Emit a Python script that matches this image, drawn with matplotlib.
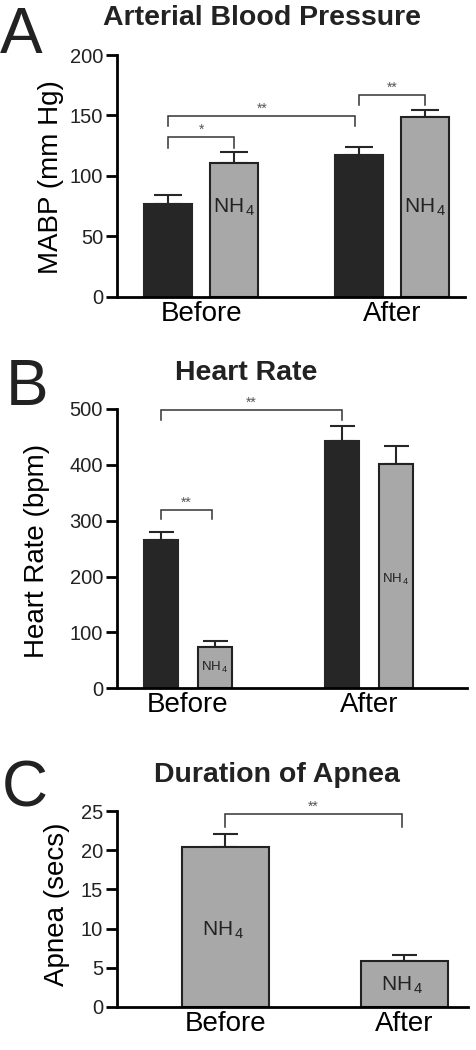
import matplotlib.pyplot as plt

plt.rcParams["font.family"] = ["Liberation Sans", "DejaVu Sans"]
plt.rcParams["mathtext.fontset"] = "custom"
plt.rcParams["mathtext.rm"] = "Liberation Sans"

groups = ["Before", "After"]

# Panel A: arterial blood pressure (mm Hg)
mabp_control = [77, 117.5]
mabp_control_err = [7.5, 6]
mabp_nh4 = [110.5, 148.5]
mabp_nh4_err = [9, 6]
mabp_ticks = [0, 50, 100, 150, 200]

# Panel B: heart rate (bpm)
hr_control = [265, 443]
hr_control_err = [15, 26]
hr_nh4 = [73, 401.5]
hr_nh4_err = [12, 32]
hr_ticks = [0, 100, 200, 300, 400, 500]

# Panel C: apnea duration (secs), NH4 only
apnea_nh4 = [20.4, 5.85]
apnea_nh4_err = [1.7, 0.8]
apnea_ticks = [0, 5, 10, 15, 20, 25]

BLACK = "#262626"
GRAY = "#a8a8a8"
EDGE = "#222222"
TICK_COLOR = "#222222"


def style_axis(ax, ticks, xlim):
    ax.spines["top"].set_visible(False)
    ax.spines["right"].set_visible(False)
    ax.spines["left"].set_linewidth(2)
    ax.spines["bottom"].set_linewidth(2)
    ax.set_ylim(ticks[0], ticks[-1])
    ax.set_yticks(ticks)
    ax.set_xlim(*xlim)
    ax.tick_params(axis="y", length=8, width=2, labelsize=14.5, labelcolor=TICK_COLOR, pad=2)
    ax.tick_params(axis="x", length=0, labelsize=20, pad=3)


def bracket(ax, x1, x2, y, drop, label, star_size=10):
    ax.plot([x1, x1, x2, x2], [y - drop, y, y, y - drop], color="#333333", lw=1.1,
            solid_joinstyle="miter", clip_on=False)
    ax.text((x1 + x2) / 2, y, label, ha="center", va="bottom", fontsize=star_size,
            color="#555555", clip_on=False)


def nh4(ax, x, y, size):
    ax.text(x, y, r"$\mathregular{NH_{\,4}}$", ha="center", va="center", fontsize=size, color="#222222")


fig = plt.figure(figsize=(4.76, 10.5), dpi=100)

# ---------------- A ----------------
ax_a = fig.add_axes([0.2458, 0.7174, 0.731, 0.2302])
off_a, w_a = 0.173, 0.25
xs = [0, 1]
ax_a.bar([x - off_a for x in xs], mabp_control, width=w_a, color=BLACK, edgecolor=BLACK, lw=1.5, zorder=2)
ax_a.bar([x + off_a for x in xs], mabp_nh4, width=w_a, color=GRAY, edgecolor=EDGE, lw=1.5, zorder=2)
ax_a.errorbar([x - off_a for x in xs], mabp_control, yerr=[[0, 0], mabp_control_err], fmt="none",
              ecolor=BLACK, elinewidth=1.5, capsize=10, capthick=1.5, zorder=1)
ax_a.errorbar([x + off_a for x in xs], mabp_nh4, yerr=[[0, 0], mabp_nh4_err], fmt="none",
              ecolor=BLACK, elinewidth=1.5, capsize=10, capthick=1.5, zorder=1)
style_axis(ax_a, mabp_ticks, (-0.44, 1.38))
ax_a.set_xticks(xs)
ax_a.set_xticklabels(groups)
ax_a.set_ylabel("MABP (mm Hg)", fontsize=20, va="center")
ax_a.yaxis.set_label_coords(0.108, 0.831, transform=fig.transFigure)
bracket(ax_a, -off_a, off_a, 132, 9, "*")
bracket(ax_a, -off_a, 1 - off_a - 0.02, 149.5, 8.5, "**")
bracket(ax_a, 1 - off_a, 1 + off_a, 167, 8, "**")
nh4(ax_a, off_a, 74, 15)
nh4(ax_a, 1 + off_a, 74, 15)

# ---------------- B ----------------
ax_b = fig.add_axes([0.2458, 0.3445, 0.735, 0.266])
off_b, w_b = 0.149, 0.188
ax_b.bar([x - off_b for x in xs], hr_control, width=w_b, color=BLACK, edgecolor=BLACK, lw=1.5, zorder=2)
ax_b.bar([x + off_b for x in xs], hr_nh4, width=w_b, color=GRAY, edgecolor=EDGE, lw=1.5, zorder=2)
ax_b.errorbar([x - off_b for x in xs], hr_control, yerr=[[0, 0], hr_control_err], fmt="none",
              ecolor=BLACK, elinewidth=1.5, capsize=9, capthick=1.5, zorder=1)
ax_b.errorbar([x + off_b for x in xs], hr_nh4, yerr=[[0, 0], hr_nh4_err], fmt="none",
              ecolor=BLACK, elinewidth=1.5, capsize=9, capthick=1.5, zorder=1)
style_axis(ax_b, hr_ticks, (-0.39, 1.54))
ax_b.set_xticks(xs)
ax_b.set_xticklabels(groups)
ax_b.set_ylabel("Heart Rate (bpm)", fontsize=20, va="center")
ax_b.yaxis.set_label_coords(0.077, 0.4752, transform=fig.transFigure)
bracket(ax_b, -off_b, 1 - off_b, 498, 18, "**")
bracket(ax_b, -off_b, off_b - 0.015, 319, 16, "**")
nh4(ax_b, off_b, 38, 9.5)
nh4(ax_b, 1 + off_b, 194, 9.5)

# ---------------- C ----------------
ax_c = fig.add_axes([0.2458, 0.0412, 0.7374, 0.1861])
w_c = 0.49
ax_c.bar(xs, apnea_nh4, width=w_c, color=GRAY, edgecolor=EDGE, lw=1.5, zorder=2)
ax_c.errorbar(xs, apnea_nh4, yerr=[[0, 0], apnea_nh4_err], fmt="none",
              ecolor=BLACK, elinewidth=1.5, capsize=9, capthick=1.5, zorder=1)
style_axis(ax_c, apnea_ticks, (-0.606, 1.355))
ax_c.set_xticks(xs)
ax_c.set_xticklabels(groups)
ax_c.set_ylabel("Apnea (secs)", fontsize=20, va="center")
ax_c.yaxis.set_label_coords(0.119, 0.139, transform=fig.transFigure)
bracket(ax_c, 0, 1 - 0.015, 24.7, 1.7, "**")
nh4(ax_c, -0.01, 9.8, 15)
nh4(ax_c, 0.99, 2.8, 15)

# titles and panel letters
fig.text(0.55, 0.976, "Arterial Blood Pressure", ha="center", va="baseline", fontsize=20.5, fontweight="bold", color="#222222")
fig.text(0.518, 0.638, "Heart Rate", ha="center", va="baseline", fontsize=20.5, fontweight="bold", color="#222222")
fig.text(0.582, 0.2555, "Duration of Apnea", ha="center", va="baseline", fontsize=20.5, fontweight="bold", color="#222222")
fig.text(0.0, 0.9495, "A", ha="left", va="baseline", fontsize=46, color="#222222")
fig.text(0.012, 0.614, "B", ha="left", va="baseline", fontsize=46, color="#222222")
fig.text(0.004, 0.232, "C", ha="left", va="baseline", fontsize=46, color="#222222")

fig.savefig("out.png", dpi=100)
